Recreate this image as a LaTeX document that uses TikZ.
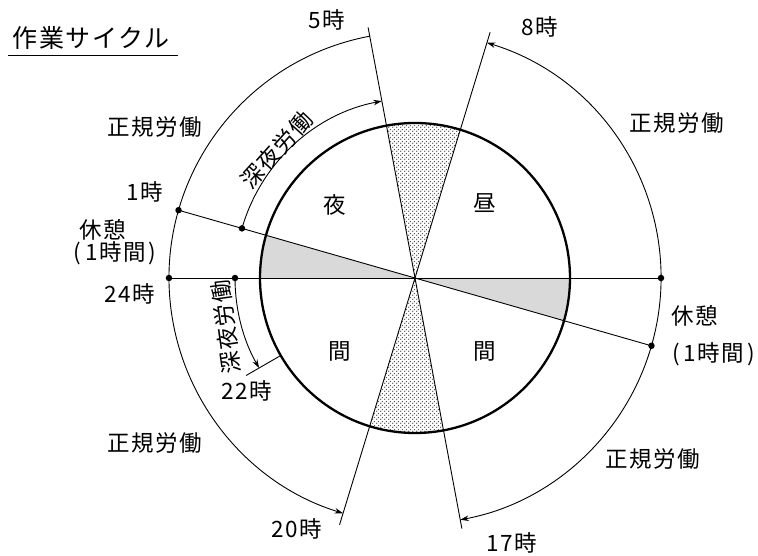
\documentclass[tikz,border=0pt]{standalone}
\usepackage{fontspec}
\setmainfont[LetterSpace=6]{Noto Sans CJK JP}
\usetikzlibrary{arrows.meta,patterns}
\pgfdeclarepatternformonly{mydots}{\pgfpoint{0pt}{0pt}}{\pgfpoint{4pt}{4pt}}{\pgfpoint{4pt}{4pt}}{%
  \pgfpathcircle{\pgfpoint{1pt}{1pt}}{0.8pt}%
  \pgfpathcircle{\pgfpoint{3pt}{3pt}}{0.8pt}%
  \pgfusepath{fill}}
\begin{document}
\begin{tikzpicture}[x=1pt,y=1pt,
  lbl/.style={font=\fontsize{22.5}{25}\selectfont, inner sep=0pt},
  ln/.style={line width=0.9pt},
  arr/.style={-{Stealth[length=8.5pt,width=5.5pt]}},
  dbl/.style={{Stealth[length=8.5pt,width=5.5pt]}-{Stealth[length=8.5pt,width=5.5pt]}},
  dotmark/.style={circle,fill,inner sep=0pt,minimum size=6.5pt}]
\useasboundingbox (-415,-278) rectangle (343,278);
\def\R{155}
% fills
\fill[black!15] (0,0) -- (164:\R) arc[start angle=164,end angle=180,radius=\R] -- cycle;
\fill[black!15] (0,0) -- (-16:\R) arc[start angle=-16,end angle=0,radius=\R] -- cycle;
\fill[pattern=mydots,pattern color=black!75] (0,0) -- (73:\R) arc[start angle=73,end angle=100.6,radius=\R] -- cycle;
\fill[pattern=mydots,pattern color=black!75] (0,0) -- (-107:\R) arc[start angle=-107,end angle=-79.4,radius=\R] -- cycle;
% coordinates
\coordinate (O) at (0,0);
\coordinate (t5) at (100.6:255);
\coordinate (t17) at (-79.4:255);
\coordinate (t8) at (73:257);
\coordinate (t20) at (-107:258);
\coordinate (t22a) at (210:156);
\coordinate (t22b) at (210:195);
% dots
\node[dotmark] (d24) at (180:246) {};
\node[dotmark] (d1) at (164:246) {};
\node[dotmark] (d0) at (0:246) {};
\node[dotmark] (db) at (-16:246) {};
\node[dotmark] (i1) at (164:180) {};
\node[dotmark] (i24) at (180:180) {};
% lines
\draw[ln] (t5) -- (t17);
\draw[ln] (t8) -- (t20);
\draw[ln] (d24.center) -- (d0.center);
\draw[ln] (d1.center) -- (db.center);
\draw[ln] (t22a) -- (t22b);
% circle
\draw[line width=2.3pt] (O) circle (\R);
% arcs
\draw[ln,arr] (100.6:246) arc[start angle=100.6,end angle=253,radius=246];
\draw[ln,dbl] (73:246) arc[start angle=73,end angle=-79.4,radius=246];
\draw[ln,arr] (i1.center) arc[start angle=164,end angle=100.6,radius=180];
\draw[ln,arr] (i24.center) arc[start angle=180,end angle=210,radius=180];
% title
\node[lbl,font=\fontsize{25}{28}\selectfont] (title) at (-324,240) {作業サイクル};
\draw[line width=0.9pt] (-407,223) -- (-237,223);
% labels
\node[lbl] (l5) at (-88,258) {5時};
\node[lbl] (l8) at (125,251) {8時};
\node[lbl] (nUL) at (-260,151) {正規労働};
\node[lbl] (nUR) at (262,155) {正規労働};
\node[lbl] (l1) at (-270,86) {1時};
\node[lbl] (kL) at (-312,48) {休憩};
\node[lbl] (kLh) at (-300,25) {(\kern4pt 1時間\kern3pt)};
\node[lbl] (l24) at (-285,-16) {24時};
\node[lbl] (yoru) at (-80,73) {夜};
\node[lbl] (hiru) at (70,75) {昼};
\node[lbl] (maL) at (-75,-73) {間};
\node[lbl] (maR) at (70,-73) {間};
\node[lbl,rotate=48] (shU) at (-138,128) {深夜労働};
\node[lbl,rotate=98] (shL) at (-189,-49) {深夜労働};
\node[lbl] (l22) at (-168,-113) {22時};
\node[lbl] (nLL) at (-260,-165) {正規労働};
\node[lbl] (l20) at (-118,-251) {20時};
\node[lbl] (kR) at (280,-38) {休憩};
\node[lbl,anchor=east] (kRh) at (340,-76) {(\kern4pt 1時間\kern3pt)};
\node[lbl] (nLR) at (238,-181) {正規労働};
\node[lbl] (l17) at (97,-265) {17時};
\end{tikzpicture}
\end{document}
